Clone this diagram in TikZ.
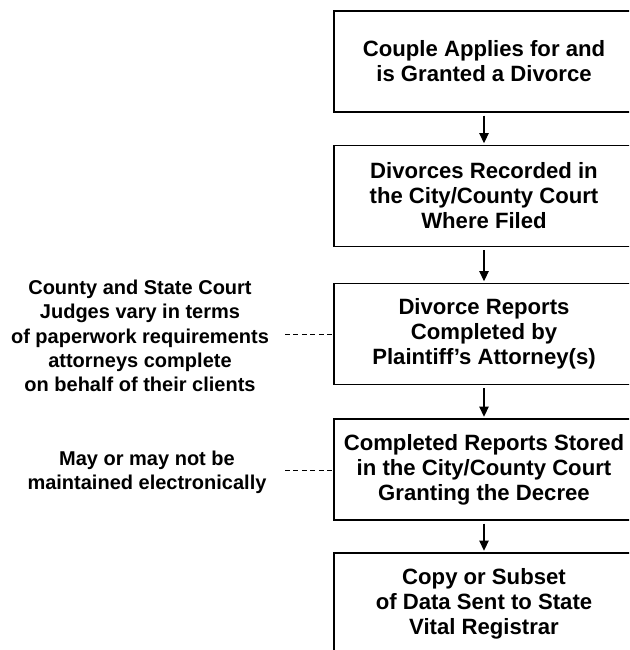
\documentclass[tikz,border=0pt]{standalone}
\usepackage{fontspec}
\setmainfont{Liberation Sans}
\usetikzlibrary{arrows.meta}

\begin{document}
\begin{tikzpicture}[x=0.75pt,y=-0.75pt,
    box/.style={draw, line width=1.2pt, minimum width=225pt, minimum height=76pt,
        inner sep=0pt, align=center, font=\bfseries\fontsize{16.6}{18.75}\selectfont},
    note/.style={align=center, font=\bfseries\fontsize{15}{18.2}\selectfont},
    flow/.style={-{Triangle[length=7.5pt,width=7pt]}, line width=0.9pt, shorten <=2pt, shorten >=1pt},
    link/.style={line width=0.7pt, dash pattern=on 3.75pt off 2.6pt}]

		\useasboundingbox (0,0) rectangle (629,650);
		\clip (0,0) rectangle (629,650);

		\node [box] (B1) at (484,61.5) {Couple Applies for and\\is Granted a Divorce};
		\node [box] (B2) at (484,196) {Divorces Recorded in\\the City/County Court\\Where Filed};
		\node [box] (B3) at (484,334) {Divorce Reports\\Completed by\\Plaintiff’s Attorney(s)};
		\node [box] (B4) at (484,469.5) {Completed Reports Stored\\in the City/County Court\\Granting the Decree};
		\node [box] (B5) at (484,603.5) {Copy or Subset\\of Data Sent to State\\Vital Registrar};

		\foreach \a/\b in {B1/B2,B2/B3,B3/B4,B4/B5}
			\draw [flow] (\a) -- (\b) ;

		\node [note] (N1) at (140,336) {County and State Court\\Judges vary in terms\\of paperwork requirements\\attorneys complete\\on behalf of their clients};
		\node [note] (N2) at (147,472) {May or may not be\\maintained electronically};

		\coordinate (D1) at (285,334);
		\coordinate (D2) at (285,470);
		\draw [link] (D1) -- (B3.west |- D1);
		\draw [link] (D2) -- (B4.west |- D2);
\end{tikzpicture}
\end{document}
